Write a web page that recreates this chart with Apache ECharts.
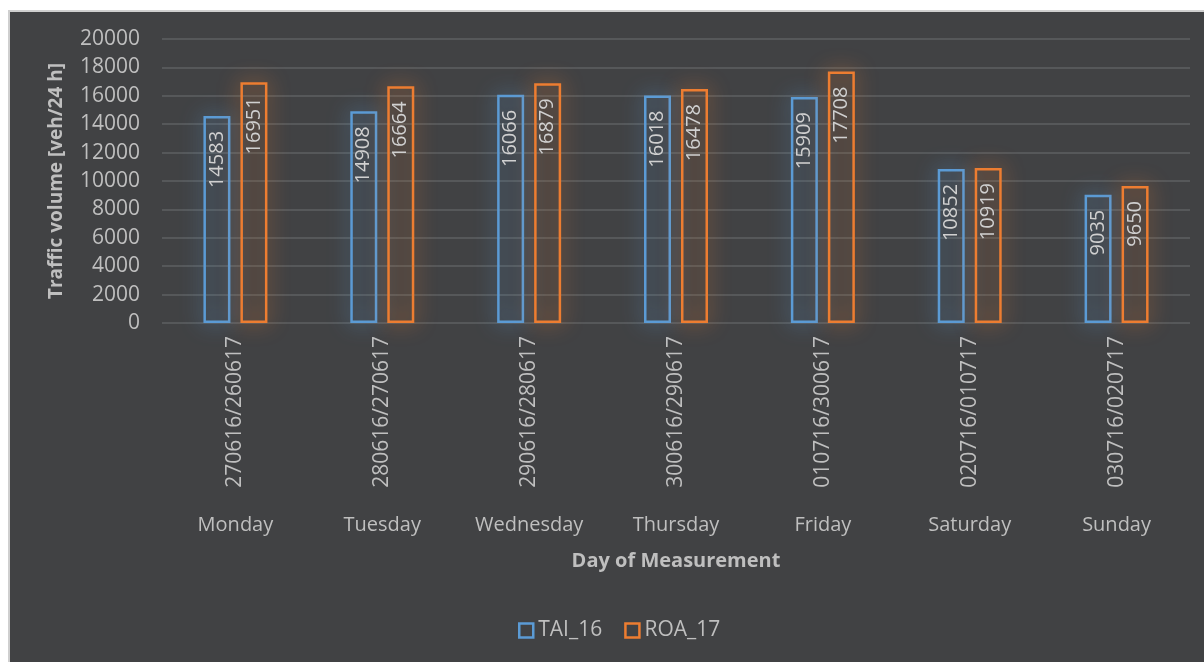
<!DOCTYPE html>
<html><head><meta charset="utf-8">
<script src="https://cdn.jsdelivr.net/npm/echarts@6/dist/echarts.min.js"></script>
<style>
html,body{margin:0;padding:0;background:#fff;}
#bg{position:absolute;left:8px;top:10px;width:1196px;height:652px;background:#414244;border-left:2px solid #cfcfcf;border-top:2px solid #cfcfcf;box-sizing:border-box;}
#main{position:absolute;left:0;top:0;width:1204px;height:662px;}
</style></head>
<body><div id="bg"></div><div id="main"></div>
<script>
const days = ['Monday','Tuesday','Wednesday','Thursday','Friday','Saturday','Sunday'];
const dates = ['270616/260617','280616/270617','290616/280617','300616/290617','010716/300617','020716/010717','030716/020717'];
const tai16 = [14583,14908,16066,16018,15909,10852,9035];
const roa17 = [16951,16664,16879,16478,17708,10919,9650];
const seriesNames = ['TAI_16','ROA_17'];
const FONT = '"Open Sans", "Noto Sans", sans-serif';
const TXT = '#bfbfbf';
function mk(name, data, color){
  return {
    name, type:'bar', data, xAxisIndex:0, barWidth:27, barGap:'37%',
    itemStyle:{color:'rgba(0,0,0,0)', borderColor:color, borderWidth:2.5, shadowBlur:20, shadowColor:color},
    label:{show:true, position:'insideTop', rotate:90, align:'right', verticalAlign:'middle', distance:15,
      color:'#d0d0d0', fontSize:20, fontFamily:FONT},
    emphasis:{disabled:true}
  };
}
const chart = echarts.init(document.getElementById('main'), null, {renderer:'canvas'});
chart.setOption({
  backgroundColor:'transparent',
  animation:false,
  grid:{left:162, right:14, top:39, bottom:339},
  legend:{bottom:16, left:513, icon:'rect', itemWidth:14, itemHeight:14, itemGap:22, itemTextGap:5,
    textStyle:{color:TXT, fontSize:21, fontFamily:FONT},
    data:[{name:'TAI_16', itemStyle:{color:'rgba(0,0,0,0)', borderColor:'#5b9bd5', borderWidth:2.5, shadowBlur:0}},
          {name:'ROA_17', itemStyle:{color:'rgba(0,0,0,0)', borderColor:'#ed7d31', borderWidth:2.5, shadowBlur:0}}]},
  xAxis:[
    {type:'category', data:dates, position:'bottom',
     axisLine:{show:false}, axisTick:{show:false},
     axisLabel:{rotate:90, interval:0, color:TXT, fontSize:21, fontFamily:FONT, margin:13}},
    {type:'category', data:days, position:'bottom', offset:190,
     axisLine:{show:false}, axisTick:{show:false},
     axisLabel:{interval:0, color:TXT, fontSize:20, fontFamily:FONT, margin:2},
     name:'Day of Measurement', nameLocation:'middle', nameGap:38,
     nameTextStyle:{color:TXT, fontSize:20, fontWeight:'bold', fontFamily:FONT}}
  ],
  yAxis:{type:'value', min:0, max:20000, interval:2000,
    axisLine:{show:false}, axisTick:{show:false},
    splitLine:{lineStyle:{color:'#5e6062', width:1.5}},
    axisLabel:{color:TXT, fontSize:21, fontFamily:FONT, margin:22, formatter:v=>String(v)},
    name:'Traffic volume [veh/24 h]', nameLocation:'middle', nameGap:96,
    nameTextStyle:{color:TXT, fontSize:19, fontWeight:'bold', fontFamily:FONT}},
  series:[mk(seriesNames[0], tai16, '#5b9bd5'), mk(seriesNames[1], roa17, '#ed7d31')]
});
</script></body></html>
